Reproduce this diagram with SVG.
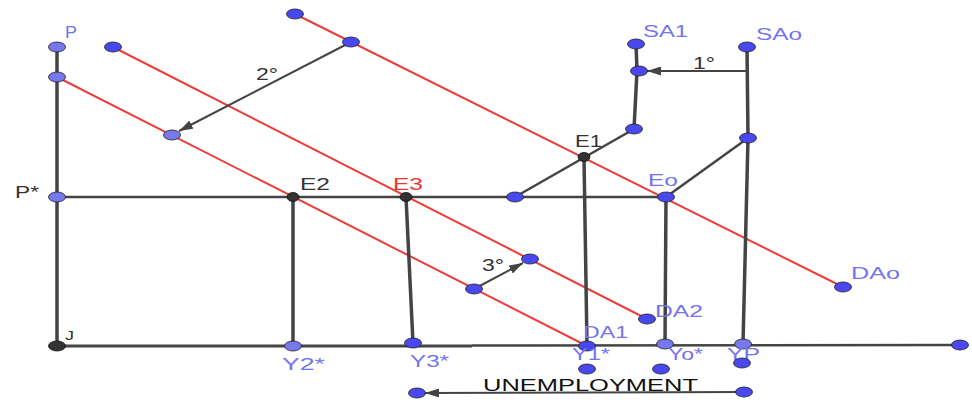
<svg xmlns="http://www.w3.org/2000/svg" width="972" height="400" viewBox="0 0 972 400">
<style>
.ax{stroke:#444;stroke-width:3.5;fill:none;stroke-linecap:round}
.ln{stroke:#444;stroke-width:2.5;fill:none}
.rd{stroke:#ee3b3b;stroke-width:2;fill:none}
.ar{stroke:#444;stroke-width:2;fill:none;marker-end:url(#ah)}
.d{fill:#4848ee;stroke:#222;stroke-width:0.8}
.dl{fill:#7878ee;stroke:#222;stroke-width:0.8}
.dk{fill:#333;stroke:#111;stroke-width:0.8}
text{font-family:"Liberation Sans",Arial,sans-serif;font-size:16px}
.bl{fill:#7474ee}
.bk{fill:#333}
.rt{fill:#ee3333}
</style>
<defs>
<marker id="ah" markerUnits="userSpaceOnUse" markerWidth="14" markerHeight="9" refX="14" refY="4.5" orient="auto">
<path d="M0,0 L14,4.5 L0,9 z" fill="#444"/>
</marker>
</defs>
<rect width="972" height="400" fill="#fff"/>
<g id="connectors">
<line class="rd" x1="57" y1="77" x2="587" y2="346"/>
<line class="rd" x1="113" y1="47" x2="647" y2="319"/>
<line class="rd" x1="295" y1="14" x2="843" y2="287"/>
<line class="ax" x1="57" y1="47" x2="57" y2="346"/>
<line class="ln" x1="57" y1="346" x2="472" y2="346" style="stroke-width:3"/>
<line class="ln" x1="472" y1="345.5" x2="960" y2="345"/>
<line class="ln" x1="57" y1="197" x2="666" y2="197"/>
<line class="ax" x1="293" y1="197" x2="293" y2="346"/>
<line class="ax" x1="406" y1="197" x2="413" y2="343"/>
<line class="ax" x1="584" y1="157" x2="587" y2="346"/>
<line class="ax" x1="666" y1="197" x2="665" y2="344"/>
<line class="ln" x1="515" y1="197" x2="634" y2="129"/>
<polyline class="ax" points="634,129 637,71 636,44"/>
<polyline class="ax" points="747,47 748,138 743,344"/>
<line class="ln" x1="666" y1="197" x2="748" y2="138"/>
<line class="ar" x1="748" y1="71" x2="647" y2="71"/>
<line class="ar" x1="351" y1="42" x2="179" y2="131"/>
<line class="ar" x1="474" y1="289" x2="523" y2="263"/>
<line class="ar" x1="744" y1="392" x2="425" y2="393"/>
</g>
<g id="P"><ellipse class="dl" cx="57" cy="47" rx="8.5" ry="5"/><text class="bl" x="65" y="38" textLength="12" lengthAdjust="spacingAndGlyphs">P</text></g>
<g id="DA1top"><ellipse class="dl" cx="57" cy="77" rx="8.5" ry="5"/></g>
<g id="Pstar"><ellipse class="dl" cx="57" cy="197" rx="8.5" ry="5"/><text class="bk" x="15" y="198" textLength="24" lengthAdjust="spacingAndGlyphs">P*</text></g>
<g id="J"><ellipse class="dk" cx="57" cy="346" rx="8.5" ry="5"/><text class="bk" x="65" y="340" style="font-size:13px" textLength="9" lengthAdjust="spacingAndGlyphs">J</text></g>
<g id="DA2top"><ellipse class="d" cx="113" cy="47" rx="8.5" ry="5"/></g>
<g id="DAotop"><ellipse class="d" cx="295" cy="14" rx="8.5" ry="5"/></g>
<g id="DAoshift"><ellipse class="d" cx="351" cy="42" rx="8.5" ry="5"/></g>
<g id="label2"><text class="bk" x="256" y="80" textLength="22" lengthAdjust="spacingAndGlyphs">2°</text></g>
<g id="DA1shift"><ellipse class="dl" cx="172" cy="135" rx="8.5" ry="5"/></g>
<g id="E2"><ellipse class="dk" cx="293" cy="197" rx="6" ry="4.5"/><text class="bk" x="300" y="190" textLength="30" lengthAdjust="spacingAndGlyphs">E2</text></g>
<g id="E3"><ellipse class="dk" cx="406" cy="197" rx="6" ry="4.5"/><text class="rt" x="393" y="190" textLength="30" lengthAdjust="spacingAndGlyphs">E3</text></g>
<g id="SA1base"><ellipse class="d" cx="515" cy="197" rx="8.5" ry="5"/></g>
<g id="E1"><ellipse class="dk" cx="584" cy="157" rx="6" ry="4.5"/><text class="bk" x="575" y="147" textLength="27" lengthAdjust="spacingAndGlyphs">E1</text></g>
<g id="SA1low"><ellipse class="d" cx="634" cy="129" rx="8.5" ry="5"/></g>
<g id="SA1mid"><ellipse class="d" cx="639" cy="71" rx="8.5" ry="5"/></g>
<g id="SA1"><ellipse class="d" cx="636" cy="44" rx="8.5" ry="5"/><text class="bl" x="643" y="37" textLength="45" lengthAdjust="spacingAndGlyphs">SA1</text></g>
<g id="SAo"><ellipse class="d" cx="747" cy="47" rx="8.5" ry="5"/><text class="bl" x="756" y="40" textLength="46" lengthAdjust="spacingAndGlyphs">SAo</text></g>
<g id="label1"><text class="bk" x="693" y="69" textLength="22" lengthAdjust="spacingAndGlyphs">1°</text></g>
<g id="SAolow"><ellipse class="d" cx="748" cy="138" rx="8.5" ry="5"/></g>
<g id="Eo"><ellipse class="d" cx="666" cy="197" rx="8.5" ry="5"/><text class="bl" x="648" y="186" textLength="30" lengthAdjust="spacingAndGlyphs">Eo</text></g>
<g id="DAo"><ellipse class="d" cx="843" cy="287" rx="8.5" ry="5"/><text class="bl" x="851" y="279" textLength="49" lengthAdjust="spacingAndGlyphs">DAo</text></g>
<g id="DA2shift"><ellipse class="d" cx="530" cy="259" rx="8.5" ry="5"/></g>
<g id="DA1mid"><ellipse class="d" cx="474" cy="289" rx="8.5" ry="5"/></g>
<g id="label3"><text class="bk" x="482" y="271" textLength="22" lengthAdjust="spacingAndGlyphs">3°</text></g>
<g id="DA2"><ellipse class="d" cx="647" cy="319" rx="8.5" ry="5"/><text class="bl" x="655" y="317" textLength="48" lengthAdjust="spacingAndGlyphs">DA2</text></g>
<g id="DA1"><ellipse class="d" cx="587" cy="346" rx="8.5" ry="5"/><text class="bl" x="583" y="338" textLength="45" lengthAdjust="spacingAndGlyphs">DA1</text><text class="bl" x="572" y="360" textLength="38" lengthAdjust="spacingAndGlyphs">Y1*</text></g>
<g id="Y2star"><ellipse class="dl" cx="293" cy="346" rx="8.5" ry="5"/><text class="bl" x="282" y="370" textLength="43" lengthAdjust="spacingAndGlyphs">Y2*</text></g>
<g id="Y3star"><ellipse class="d" cx="413" cy="343" rx="8.5" ry="5"/><text class="bl" x="410" y="367" textLength="39" lengthAdjust="spacingAndGlyphs">Y3*</text></g>
<g id="Yostar"><ellipse class="dl" cx="665" cy="344" rx="8.5" ry="5"/><text class="bl" x="668" y="360" textLength="35" lengthAdjust="spacingAndGlyphs">Yo*</text></g>
<g id="YP"><ellipse class="dl" cx="743" cy="344" rx="8.5" ry="5"/><text class="bl" x="727" y="360" textLength="33" lengthAdjust="spacingAndGlyphs">YP</text></g>
<g id="axisEnd"><ellipse class="d" cx="960" cy="345" rx="8.5" ry="5"/></g>
<g id="Y1low"><ellipse class="d" cx="587" cy="369" rx="8.5" ry="5"/></g>
<g id="Yolow"><ellipse class="d" cx="661" cy="369" rx="8.5" ry="5"/></g>
<g id="YPlow"><ellipse class="d" cx="742" cy="363" rx="8.5" ry="5"/></g>
<g id="Urightpt"><ellipse class="d" cx="744" cy="392" rx="8.5" ry="5"/></g>
<g id="Uleftpt"><ellipse class="d" cx="417" cy="393" rx="8.5" ry="5"/></g>
<g id="unemployment"><text x="483" y="391" fill="#111" style="font-size:17px" textLength="215" lengthAdjust="spacingAndGlyphs">UNEMPLOYMENT</text></g>
</svg>
